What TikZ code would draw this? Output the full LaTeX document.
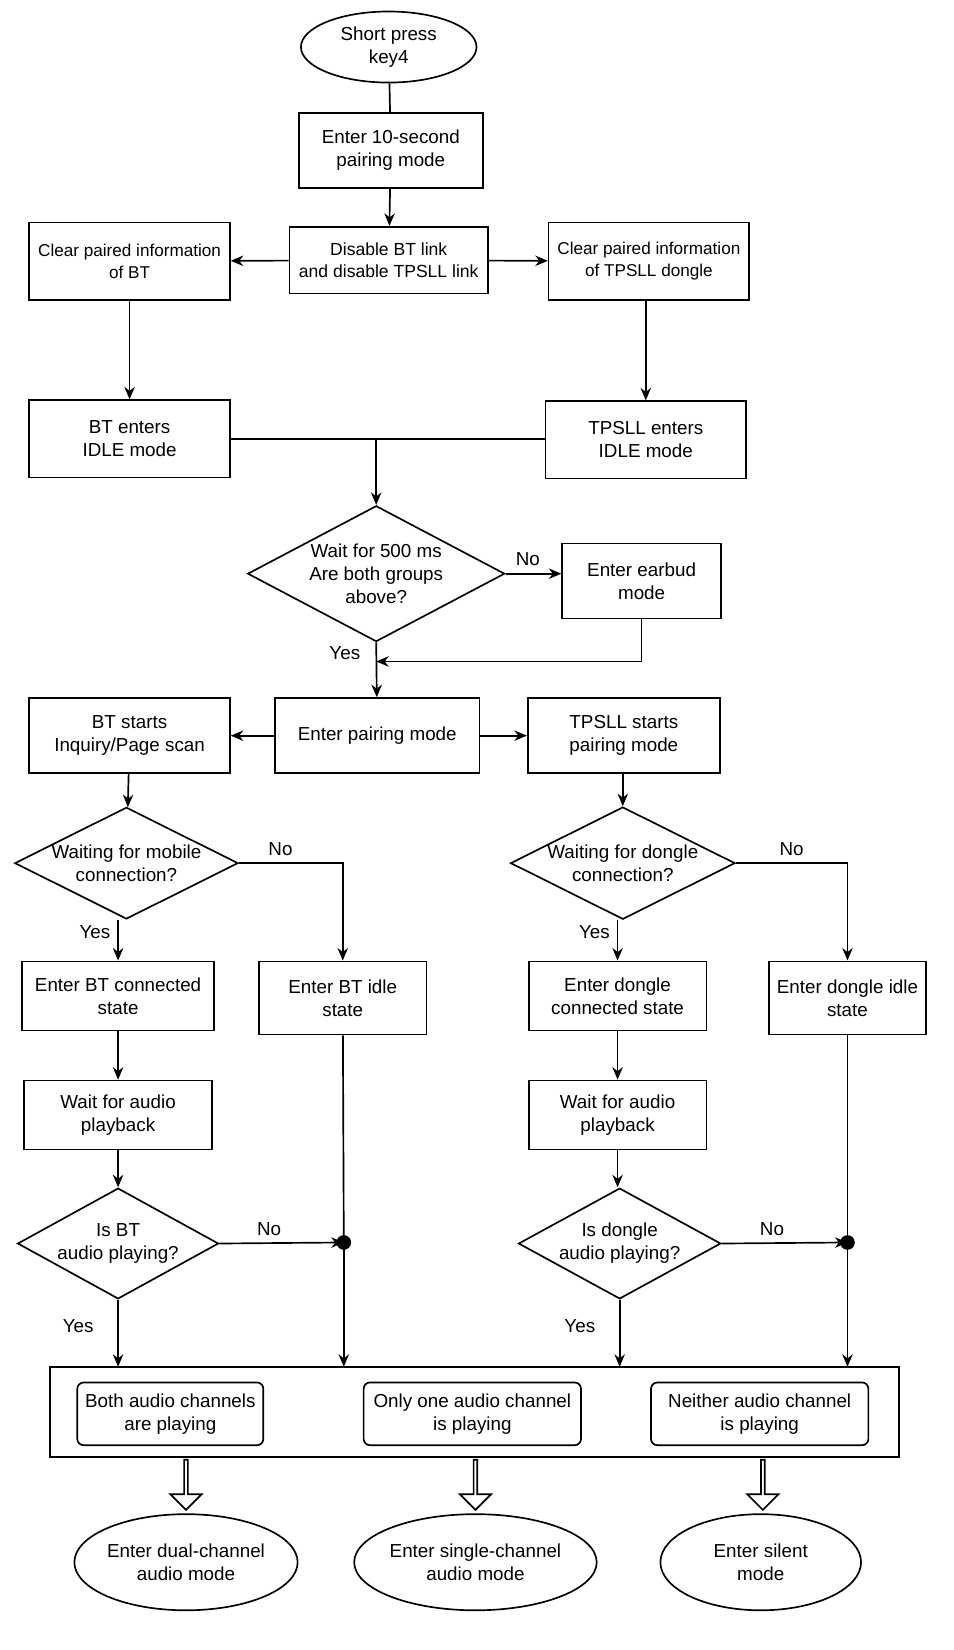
\documentclass[tikz,border=0pt]{standalone}
\usepackage{fontspec}
\setmainfont{Liberation Sans}
\usetikzlibrary{shapes.geometric,arrows.meta,shapes.arrows}
\begin{document}
\begin{tikzpicture}[x=0.5pt,y=-0.5pt,font=\fontsize{9}{11}\selectfont,
 box/.style={draw,thick,align=center,inner sep=0pt},
 dia/.style={draw,thick,diamond,aspect=2,align=center,inner sep=0pt},
 ell/.style={draw,thick,ellipse,align=center,inner sep=0pt},
 rbox/.style={draw,thick,rounded corners=3pt,align=center,inner sep=0pt,minimum height=30pt},
 arr/.style={thick,-{Stealth[length=6pt,width=5pt]}},
 ln/.style={thick}]
\useasboundingbox (0,0) rectangle (912,1579);
\node[ell,minimum width=84pt,minimum height=34pt] (start) at (372,45) {Short press\\key4};
\node[box,minimum width=88pt,minimum height=36pt] (p10) at (374,144) {Enter 10-second\\pairing mode};
\node[box,minimum width=95pt,minimum height=32pt,font=\fontsize{8.4}{10.5}\selectfont] (dis) at (372,249) {Disable BT link\\and disable TPSLL link};
\node[box,minimum width=96pt,minimum height=37pt,font=\fontsize{8.2}{10.5}\selectfont] (cbt) at (124,250) {Clear paired information\\of BT};
\node[box,minimum width=96pt,minimum height=37pt,font=\fontsize{8.2}{10.5}\selectfont] (ct) at (621,250) {Clear paired information\\of TPSLL dongle};
\node[box,minimum width=96pt,minimum height=37pt] (bti) at (124,420) {BT enters\\IDLE mode};
\node[box,minimum width=96pt,minimum height=37pt] (ti) at (618,421) {TPSLL enters\\IDLE mode};
\node[dia,minimum width=123pt,minimum height=65pt] (w5) at (360,549) {Wait for 500 ms\\Are both groups\\above?};
\node[box,minimum width=76pt,minimum height=36pt] (ear) at (614,556) {Enter earbud\\mode};
\node[box,minimum width=98pt,minimum height=36pt] (pm) at (361,704) {Enter pairing mode};
\node[box,minimum width=96pt,minimum height=36pt] (bts) at (124,704) {BT starts\\Inquiry/Page scan};
\node[box,minimum width=92pt,minimum height=36pt] (ts) at (597,704) {TPSLL starts\\pairing mode};
\node[dia,minimum width=106pt,minimum height=48pt] (mob) at (121,826) {Waiting for mobile\\connection?};
\node[dia,minimum width=106pt,minimum height=48pt] (don) at (596,826) {Waiting for dongle\\connection?};
\node[box,minimum width=92pt,minimum height=33pt] (btc) at (113,953) {Enter BT connected\\state};
\node[box,minimum width=80pt,minimum height=35pt] (btid) at (328,955) {Enter BT idle\\state};
\node[box,minimum width=85pt,minimum height=33pt] (dc) at (591,953) {Enter dongle\\connected state};
\node[box,minimum width=75pt,minimum height=35pt] (did) at (811,955) {Enter dongle idle\\state};
\node[box,minimum width=90pt,minimum height=33pt] (wa) at (113,1067) {Wait for audio\\playback};
\node[box,minimum width=85pt,minimum height=33pt] (wb) at (591,1067) {Wait for audio\\playback};
\node[dia,minimum width=95pt,minimum height=53pt] (ba) at (113,1190) {Is BT\\audio playing?};
\node[dia,minimum width=95pt,minimum height=53pt] (da) at (593,1190) {Is dongle\\audio playing?};
\fill (329,1189) circle (3.5pt) coordinate (d1);
\fill (811,1189) circle (3.5pt) coordinate (d2);
\node[draw,thick,minimum width=406pt,minimum height=43pt,inner sep=0pt] (big) at (454,1351) {};
\node[rbox,minimum width=89pt] (r1) at (163,1353) {Both audio channels\\are playing};
\node[rbox,minimum width=104pt] (r2) at (452,1353) {Only one audio channel\\is playing};
\node[rbox,minimum width=104pt] (r3) at (727,1353) {Neither audio channel\\is playing};
\node[ell,minimum width=100pt,minimum height=46pt] (e1) at (178,1495) {Enter dual-channel\\audio mode};
\node[ell,minimum width=100pt,minimum height=46pt] (e2) at (455,1495) {Enter single-channel\\audio mode};
\node[ell,minimum width=96pt,minimum height=46pt] (e3) at (728,1495) {Enter silent\\mode};
\foreach \x in {178,455,730}
 \node[draw,thick,single arrow,shape border rotate=270,minimum height=24pt,minimum width=15pt,single arrow head extend=3pt,inner sep=0pt,fill=white] at (\x,1420) {};
\draw[ln] (start) -- (p10);
\draw[arr] (p10) -- (dis);
\draw[arr] (dis) -- (cbt);
\draw[arr] (dis) -- (ct);
\draw[arr] (cbt) -- (bti);
\draw[arr] (ct.south -| ti) -- (ti);
\draw[ln] (bti.east) -- (bti.east -| ti.west);
\draw[arr] (360,420) -- (w5.north);
\draw[arr] (w5.east) -- node[above,pos=0.4]{No} (ear.west |- w5.east);
\draw[arr] (ear.south) |- (360,633);
\draw[arr] (w5.south) -- node[left,pos=0.2,xshift=-4pt]{Yes} (pm);
\draw[arr] (pm) -- (bts);
\draw[arr] (pm) -- (ts);
\draw[arr] (bts) -- (mob);
\draw[arr] (ts.south -| don) -- (don);
\draw[arr] (mob.east) -| node[above,pos=0.2]{No} (btid.north);
\draw[arr] (don.east) -| node[above,pos=0.25]{No} (did.north);
\draw[arr] (mob.south -| btc) -- node[left,pos=0.3]{Yes} (btc);
\draw[arr] (don.south -| dc) -- node[left,pos=0.3]{Yes} (dc);
\draw[arr] (btc) -- (wa);
\draw[arr] (dc) -- (wb);
\draw[arr] (wa) -- (ba);
\draw[arr] (wb) -- (wb|-da.north);
\draw[arr] (ba.east) -- node[above,pos=0.4]{No} (d1);
\draw[arr] (da.east) -- node[above,pos=0.4]{No} (d2);
\draw[ln] (btid) -- (d1);
\draw[ln] (did) -- (d2);
\draw[arr] (d1) -- (329,1308);
\draw[arr] (d2) -- (811,1308);
\draw[arr] (ba.south) -- node[left,pos=0.4,xshift=-8pt]{Yes} (113,1308);
\draw[arr] (da.south) -- node[left,pos=0.4,xshift=-8pt]{Yes} (593,1308);
\end{tikzpicture}
\end{document}
